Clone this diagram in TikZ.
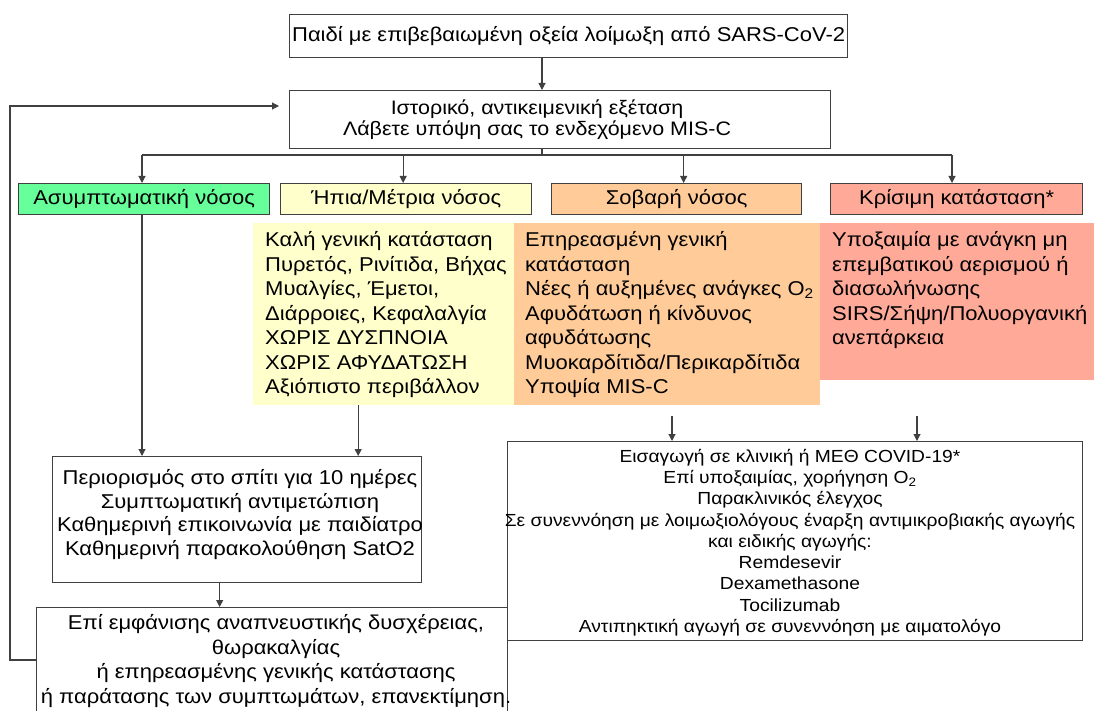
\documentclass[tikz,border=0pt]{standalone}
\usepackage{fontspec}
\setmainfont{Liberation Sans}[FakeStretch=1.1]
\usetikzlibrary{arrows.meta}
\definecolor{asymG}{RGB}{102,255,153}
\definecolor{mildY}{RGB}{255,255,204}
\definecolor{sevO}{RGB}{255,204,153}
\definecolor{critR}{RGB}{255,170,153}
\definecolor{lineC}{RGB}{64,64,64}
\begin{document}
\begin{tikzpicture}[x=1pt,y=-1pt,
  ln/.style={draw=lineC, line width=1.1pt},
  arr/.style={ln, -{Triangle[length=7pt,width=7pt]}},
  bx/.style={draw=lineC, line width=1.3pt, inner sep=0pt, anchor=north west},
  fillbox/.style={draw=none, inner sep=0pt, anchor=north west},
  mainf/.style={font=\fontsize{20}{24.5}\selectfont},
  txtL/.style={mainf, inner sep=0pt, anchor=north west, align=left},
  txtC/.style={inner sep=0pt, anchor=north, align=center}
]
\useasboundingbox (0,0) rectangle (1094,711);
\clip (0,0) rectangle (1094,711);

% top boxes
\node[bx, minimum width=558pt, minimum height=43pt, mainf] (top) at (289,14) {Παιδί με επιβεβαιωμένη οξεία λοίμωξη από SARS-CoV-2};
\node[bx, minimum width=541pt, minimum height=58pt] (hist) at (289,90) {};
\node[txtC, anchor=center, font=\fontsize{19.5}{21}\selectfont] (histT) at (537,120) {Ιστορικό, αντικειμενική εξέταση\\Λάβετε υπόψη σας το ενδεχόμενο MIS-C};

% category boxes
\node[bx, fill=asymG, minimum width=251pt, minimum height=31pt, mainf] (asym) at (18,183) {Ασυμπτωματική νόσος};
\node[bx, fill=mildY, minimum width=251pt, minimum height=31pt, mainf] (mild) at (280,183) {Ήπια/Μέτρια νόσος};
\node[bx, fill=sevO, minimum width=250pt, minimum height=31pt, mainf] (sev) at (551,183) {Σοβαρή νόσος};
\node[bx, fill=critR, minimum width=252pt, minimum height=31pt, mainf] (crit) at (830,183) {Κρίσιμη κατάσταση*};

% detail fills
\node[fillbox, fill=mildY, minimum width=261pt, minimum height=182pt] (mildD) at (253,223) {};
\node[fillbox, fill=sevO, minimum width=306pt, minimum height=182pt] (sevD) at (514,223) {};
\node[fillbox, fill=critR, minimum width=274pt, minimum height=157pt] (critD) at (820,223) {};

\node[txtL] (mildT) at (265,229.3) {\strut Καλή γενική κατάσταση\\Πυρετός, Ρινίτιδα, Βήχας\\Μυαλγίες, Έμετοι,\\Διάρροιες, Κεφαλαλγία\\ΧΩΡΙΣ ΔΥΣΠΝΟΙΑ\\ΧΩΡΙΣ ΑΦΥΔΑΤΩΣΗ\\Αξιόπιστο περιβάλλον};
\node[txtL] (sevT) at (525,229.3) {\strut Επηρεασμένη γενική\\κατάσταση\\Νέες ή αυξημένες ανάγκες O\textsubscript{2}\\Αφυδάτωση ή κίνδυνος\\αφυδάτωσης\\Μυοκαρδίτιδα/Περικαρδίτιδα\\Υποψία MIS-C};
\node[txtL] (critT) at (832,229.3) {\strut Υποξαιμία με ανάγκη μη\\επεμβατικού αερισμού ή\\διασωλήνωσης\\SIRS/Σήψη/Πολυοργανική\\ανεπάρκεια};

% lower boxes
\node[bx, minimum width=369pt, minimum height=126pt] (home) at (52,456) {};
\node[txtC, mainf, font=\fontsize{20}{23.5}\selectfont] (homeT) at (240,468) {\strut Περιορισμός στο σπίτι για 10 ημέρες\\Συμπτωματική αντιμετώπιση\\Καθημερινή επικοινωνία με παιδίατρο\\Καθημερινή παρακολούθηση SatO2};

\node[bx, minimum width=471pt, minimum height=130pt] (bot) at (36,607) {};
\node[txtC, mainf] (botT) at (276,612.3) {\strut Επί εμφάνισης αναπνευστικής δυσχέρειας,\\θωρακαλγίας\\ή επηρεασμένης γενικής κατάστασης\\ή παράτασης των συμπτωμάτων, επανεκτίμηση.};

\node[bx, minimum width=575pt, minimum height=199pt] (big) at (507,441) {};
\node[txtC, font=\fontsize{17.5}{21.3}\selectfont] (bigT) at (790,447) {\strut Εισαγωγή σε κλινική ή ΜΕΘ COVID-19*\\Επί υποξαιμίας, χορήγηση O\textsubscript{2}\\Παρακλινικός έλεγχος\\Σε συνεννόηση με λοιμωξιολόγους έναρξη αντιμικροβιακής αγωγής\\και ειδικής αγωγής:\\Remdesevir\\Dexamethasone\\Tocilizumab\\Αντιπηκτική αγωγή σε συνεννόηση με αιματολόγο};

% connectors
\coordinate (br) at (542,155);
\coordinate (bL) at (142,155);
\coordinate (bR) at (952,155);
\draw[arr] (top.south -| br) -- (hist.north -| br);
\draw[ln] (hist.south -| br) -- (br);
\draw[ln] (bL) -- (bR);
\draw[arr] (bL) -- (bL |- asym.north);
\path ([xshift=-3pt]mild.north) coordinate (mN);
\draw[arr] (mN |- br) -- (mN);
\path ([xshift=7pt]sev.north) coordinate (sN);
\draw[arr] (sN |- br) -- (sN);
\draw[arr] (bR) -- (bR |- crit.north);

\draw[arr] (asym.south -| bL) -- (home.north -| bL);
\path ([xshift=-25.5pt]mildD.south) coordinate (mA);
\draw[arr] (mA) -- (mA |- home.north);
\path ([xshift=-17.5pt]home.south) coordinate (hA);
\draw[arr] (hA) -- (hA |- bot.north);

\coordinate (sA) at (672,416);
\coordinate (cA) at (917,416);
\draw[arr] (sA) -- (sA |- big.north);
\draw[arr] (cA) -- (cA |- big.north);

\coordinate (lpB) at (10,660);
\coordinate (lpT) at (10,106);
\coordinate (hTip) at (279,106);
\draw[arr] (bot.west |- lpB) -- (lpB) -- (lpT) -- (hTip);
\end{tikzpicture}
\end{document}
